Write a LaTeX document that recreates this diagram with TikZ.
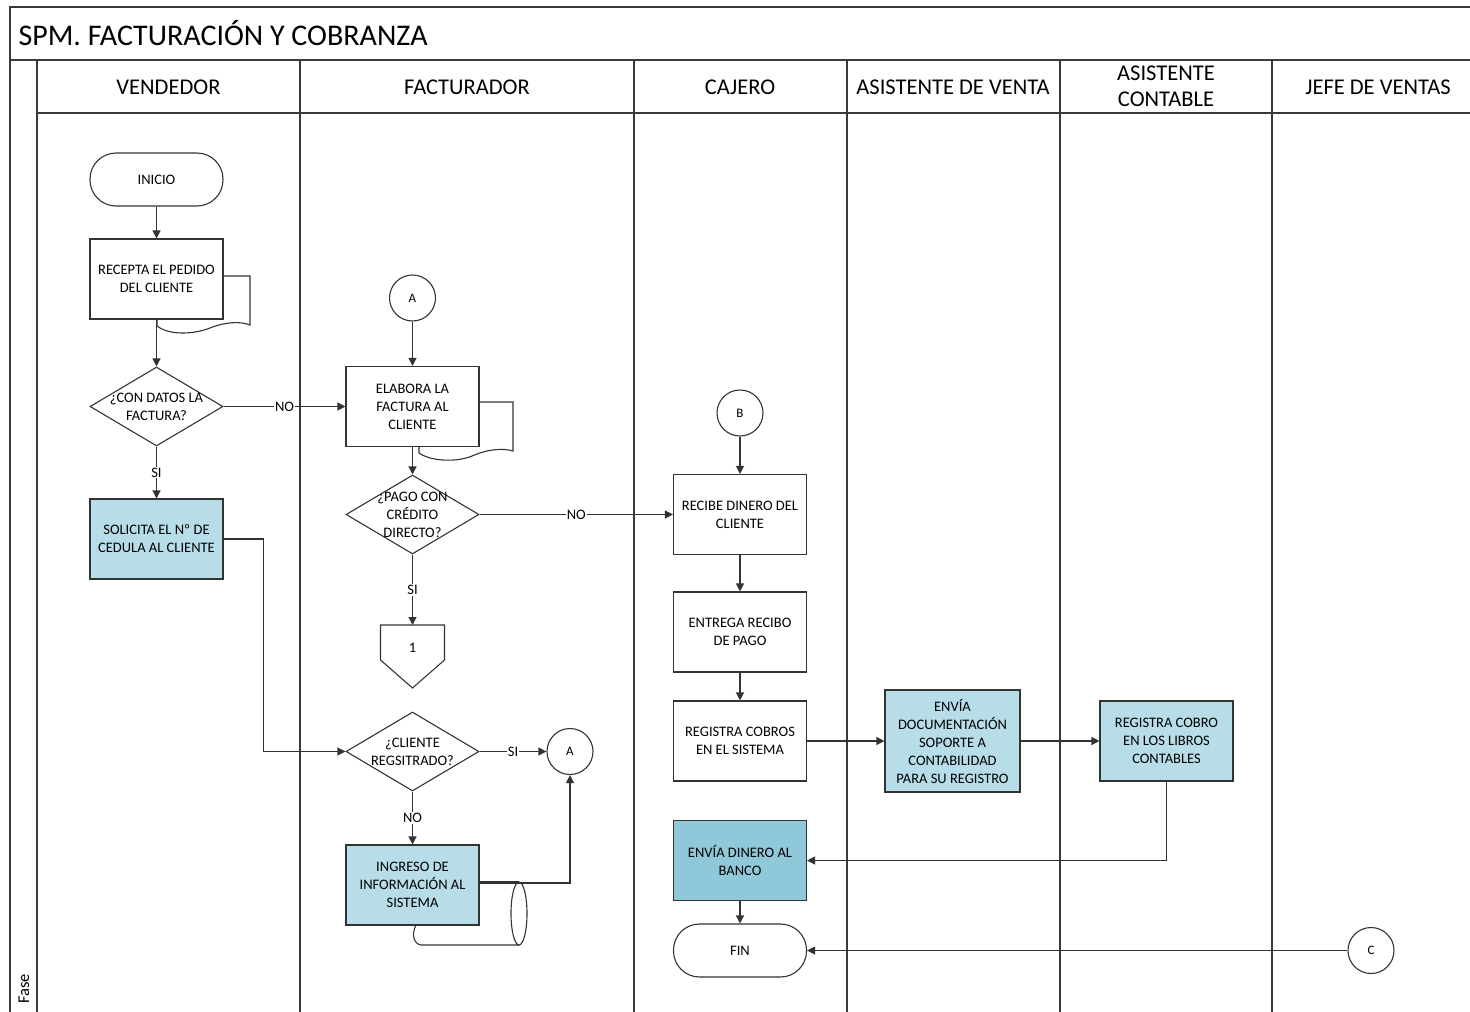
\documentclass[tikz,border=0pt]{standalone}
\usepackage{fontspec}
\setmainfont{Carlito}
\usetikzlibrary{arrows.meta,shapes.geometric,calc}
\definecolor{linec}{HTML}{333333}
\definecolor{framec}{HTML}{3A3A3A}
\definecolor{lblue}{HTML}{B7DDE8}
\definecolor{dblue}{HTML}{8FC9D9}
\begin{document}
\begin{tikzpicture}[x=1pt,y=-1pt,
  lane/.style={draw=framec,line width=2pt},
  boxfont/.style={font=\fontsize{14.5}{18}\selectfont},
  proc/.style={draw=linec,line width=1.1pt,fill=white,minimum width=133,minimum height=80,align=center,inner sep=1pt,boxfont},
  procb/.style={proc,fill=lblue},
  procd/.style={proc,fill=dblue},
  term/.style={draw=linec,line width=1.1pt,fill=white,rounded corners=26pt,minimum width=133,minimum height=53,align=center,boxfont},
  dec/.style={draw=linec,line width=1.1pt,fill=white,diamond,minimum width=133,minimum height=79,inner sep=0pt},
  dectext/.style={align=center,boxfont,inner sep=0pt},
  conn/.style={draw=linec,line width=1.1pt,circle,minimum size=46,inner sep=0pt,fill=white,font=\fontsize{13}{15}\selectfont},
  arr/.style={draw=linec,line width=1.2pt,-{Triangle[length=8pt,width=8pt]}},
  lbl/.style={fill=white,inner sep=1pt,boxfont},
  head/.style={font=\fontsize{22.5}{26}\selectfont,align=center}
]
\useasboundingbox (0,0) rectangle (1470,1012);
% frame and lanes
\draw[lane] (10,1014) -- (10,7) -- (1472,7);
\draw[lane] (10,60) -- (1472,60);
\draw[lane] (37,113) -- (1472,113);
\foreach \x in {37,300,634,847,1060,1272} \draw[lane] (\x,60) -- (\x,1014);
\node[anchor=west,font=\fontsize{30}{34}\selectfont] (title) at (15,33) {SPM. FACTURACIÓN Y COBRANZA};
\node[head] (h1) at (168.5,87) {VENDEDOR};
\node[head] (h2) at (467,87) {FACTURADOR};
\node[head] (h3) at (740,87) {CAJERO};
\node[head] (h4) at (953,87) {ASISTENTE DE VENTA};
\node[head,font=\fontsize{22.5}{26}\selectfont] (h5) at (1166,86) {ASISTENTE\\CONTABLE};
\node[head] (h6) at (1378,87) {JEFE DE VENTAS};
\node[rotate=90,font=\fontsize{16.5}{18}\selectfont] (fase) at (24,989) {Fase};

% VENDEDOR
\node[term] (inicio) at (156.5,179.5) {INICIO};
\node[proc] (recepta) at (156.5,279) {RECEPTA EL PEDIDO\\DEL CLIENTE};
\draw[linec,line width=1.1pt] (157,319) -- (157,326) .. controls (170,336) and (195,334) .. (210,328) .. controls (225,322) and (240,321) .. (250,325) -- (250,276) -- (223,276);
\node[dec,label={[dectext]center:¿CON DATOS LA\\FACTURA?}] (d1) at (156.5,406.5) {};
\node[procb] (solicita) at (156.5,539) {SOLICITA EL Nº DE\\CEDULA AL CLIENTE};

% FACTURADOR
\node[conn] (A1) at (412.5,298) {A};
\node[proc] (elabora) at (412.5,406.5) {ELABORA LA\\FACTURA AL\\CLIENTE};
\draw[linec,line width=1.1pt] (419,446) -- (419,453) .. controls (432,462) and (458,462) .. (472,456) .. controls (488,449) and (503,448) .. (513,451) -- (513,402) -- (479,402);
\node[dec,label={[dectext]center:¿PAGO CON\\CRÉDITO\\DIRECTO?}] (d2) at (412.5,514.5) {};
\node[minimum width=64,minimum height=46,inner sep=0pt,boxfont] (of1) at (412.5,648) {1};
\draw[linec,line width=1.1pt] ($(of1)+(-32,-23)$) -- ($(of1)+(32,-23)$) -- ($(of1)+(32,12)$) -- ($(of1)+(0,40)$) -- ($(of1)+(-32,12)$) -- cycle;
\node[dec,label={[dectext]center:¿CLIENTE\\REGSITRADO?}] (d3) at (412.5,751.5) {};
\node[conn] (A2) at (570,751.5) {A};
% cylinder behind INGRESO
\draw[linec,line width=1.1pt] (416,925) .. controls (411,935) and (414,944) .. (421,945) -- (519,945);
\draw[linec,line width=1.1pt] (479,882) -- (519,882);
\draw[linec,line width=1.1pt] (519,913.5) ellipse [x radius=8, y radius=31.5];
\node[procb] (ingreso) at (412.5,885) {INGRESO DE\\INFORMACIÓN AL\\SISTEMA};

% CAJERO
\node[conn] (B) at (740,413) {B};
\node[proc] (recibe) at (740,514.5) {RECIBE DINERO DEL\\CLIENTE};
\node[proc] (entrega) at (740,632) {ENTREGA RECIBO\\DE PAGO};
\node[proc] (registra) at (740,741) {REGISTRA COBROS\\EN EL SISTEMA};
\node[procd] (banco) at (740,860.5) {ENVÍA DINERO AL\\BANCO};
\node[term] (fin) at (740,950.5) {FIN};

% ASISTENTE DE VENTA
\node[procb,minimum width=135,minimum height=102] (envdoc) at (952.5,741) {ENVÍA\\DOCUMENTACIÓN\\SOPORTE A\\CONTABILIDAD\\PARA SU REGISTRO};
% ASISTENTE CONTABLE
\node[procb] (regcobro) at (1166.5,741) {REGISTRA COBRO\\EN LOS LIBROS\\CONTABLES};
% JEFE DE VENTAS
\node[conn] (C) at (1371,950.5) {C};

% connectors
\draw[arr] (inicio) -- (recepta);
\draw[arr] (recepta) -- (d1);
\draw[arr] (d1.east) -- node[lbl]{NO} (elabora.west);
\draw[arr] (d1.south) -- node[lbl]{SI} (solicita.north);
\draw[arr] (solicita.east) -- ($(solicita.east)+(40,0)$) |- (d3.west);
\draw[arr] (A1) -- (elabora);
\draw[arr] (elabora) -- (d2);
\draw[arr] (d2.east) -- node[lbl]{NO} (recibe.west);
\draw[arr] (d2.south) -- node[lbl]{SI} ($(of1)+(0,-23)$);
\draw[arr] (d3.east) -- node[lbl]{SI} (A2.west);
\draw[arr] (d3.south) -- node[lbl]{NO} (ingreso.north);
\draw[arr] ($(ingreso.east)+(0,-2)$) -| (A2.south);
\draw[arr] (B) -- (recibe);
\draw[arr] (recibe) -- (entrega);
\draw[arr] (entrega) -- (registra);
\draw[arr] (registra) -- (envdoc);
\draw[arr] (envdoc) -- (regcobro);
\draw[arr] (regcobro.south) |- (banco.east);
\draw[arr] (banco) -- (fin);
\draw[arr] (C) -- (fin.east);
\end{tikzpicture}
\end{document}
